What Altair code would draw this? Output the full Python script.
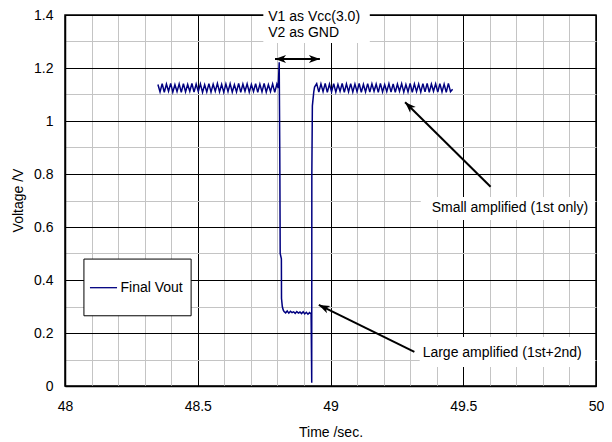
import altair as alt
import pandas as pd

# ---------------- signal: Final Vout ----------------
LEFT_T = [48.350, 48.358, 48.366, 48.374, 48.382, 48.390, 48.398, 48.406, 48.414, 48.422,
          48.430, 48.438, 48.446, 48.454, 48.462, 48.470, 48.478, 48.486, 48.494, 48.502,
          48.510, 48.518, 48.526, 48.534, 48.542, 48.550, 48.558, 48.566, 48.574, 48.582,
          48.590, 48.598, 48.606, 48.614, 48.622, 48.630, 48.638, 48.646, 48.654, 48.662,
          48.670, 48.678, 48.686, 48.694, 48.702, 48.710, 48.718, 48.726, 48.734, 48.742,
          48.750, 48.758, 48.766, 48.774, 48.782, 48.790, 48.798]
LEFT_V = [1.138, 1.110, 1.141, 1.108, 1.139, 1.112, 1.142, 1.109, 1.137, 1.111,
          1.140, 1.108, 1.141, 1.110, 1.138, 1.112, 1.142, 1.109, 1.139, 1.111,
          1.140, 1.108, 1.137, 1.110, 1.141, 1.109, 1.139, 1.112, 1.142, 1.110,
          1.138, 1.108, 1.140, 1.111, 1.141, 1.109, 1.137, 1.110, 1.142, 1.108,
          1.139, 1.112, 1.140, 1.109, 1.138, 1.111, 1.141, 1.108, 1.139, 1.110,
          1.142, 1.109, 1.137, 1.111, 1.140, 1.108, 1.139]

FALL_T = [48.803, 48.8068, 48.809, 48.810, 48.8105, 48.815, 48.8155, 48.8185, 48.8218]
FALL_V = [1.125, 1.222, 0.880, 0.630, 0.500, 0.480, 0.330, 0.300, 0.287]

LOW_T = [48.825, 48.831, 48.837, 48.843, 48.849, 48.855, 48.861, 48.867, 48.873,
         48.879, 48.885, 48.891, 48.897, 48.903, 48.909, 48.915, 48.921, 48.927]
LOW_V = [0.281, 0.276, 0.283, 0.275, 0.282, 0.277, 0.280, 0.274, 0.281,
         0.275, 0.279, 0.273, 0.280, 0.272, 0.278, 0.271, 0.277, 0.272]

EDGE_T = [48.9293, 48.9297, 48.9317, 48.9370]
EDGE_V = [0.012, 0.800, 1.057, 1.110]

RIGHT_T = [48.940, 48.948, 48.956, 48.964, 48.972, 48.980, 48.988, 48.996, 49.004, 49.012,
           49.020, 49.028, 49.036, 49.044, 49.052, 49.060, 49.068, 49.076, 49.084, 49.092,
           49.100, 49.108, 49.116, 49.124, 49.132, 49.140, 49.148, 49.156, 49.164, 49.172,
           49.180, 49.188, 49.196, 49.204, 49.212, 49.220, 49.228, 49.236, 49.244, 49.252,
           49.260, 49.268, 49.276, 49.284, 49.292, 49.300, 49.308, 49.316, 49.324, 49.332,
           49.340, 49.348, 49.356, 49.364, 49.372, 49.380, 49.388, 49.396, 49.404, 49.412,
           49.420, 49.428, 49.436, 49.444, 49.452, 49.460]
RIGHT_V = [1.128, 1.141, 1.109, 1.140, 1.111, 1.142, 1.108, 1.139, 1.110, 1.141,
           1.109, 1.138, 1.112, 1.142, 1.108, 1.140, 1.110, 1.141, 1.109, 1.139,
           1.111, 1.142, 1.108, 1.138, 1.110, 1.141, 1.109, 1.140, 1.112, 1.139,
           1.108, 1.142, 1.110, 1.137, 1.111, 1.141, 1.109, 1.140, 1.108, 1.139,
           1.112, 1.141, 1.109, 1.138, 1.110, 1.142, 1.108, 1.140, 1.111, 1.139,
           1.109, 1.141, 1.110, 1.142, 1.108, 1.139, 1.112, 1.140, 1.109, 1.141,
           1.110, 1.139, 1.108, 1.142, 1.111, 1.120]

# ---------------- axes ----------------
X_GRID = [48.0, 48.1, 48.2, 48.3, 48.4, 48.5, 48.6, 48.7, 48.8, 48.9, 49.0,
          49.1, 49.2, 49.3, 49.4, 49.5, 49.6, 49.7, 49.8, 49.9, 50.0]
Y_GRID = [0.0, 0.1, 0.2, 0.3, 0.4, 0.5, 0.6, 0.7, 0.8, 0.9, 1.0, 1.1, 1.2, 1.3, 1.4]
X_TITLE = "Time /sec."
Y_TITLE = "Voltage /V"

# ---------------- annotations ----------------
NOTE_TEXT = ["V1 as Vcc(3.0)", "V2 as GND", "Small amplified (1st only)", "Large amplified (1st+2nd)"]
NOTE_T = [48.7655, 48.7655, 49.381, 49.347]
NOTE_V = [1.377, 1.318, 0.658, 0.1106]

BOX_T1 = [48.747, 49.340, 49.336]
BOX_T2 = [49.148, 49.996, 49.996]
BOX_V1 = [1.294, 0.626, 0.0717]
BOX_V2 = [1.45, 0.713, 0.185]

SHAFT_T1 = [49.603, 49.316, 48.791]
SHAFT_V1 = [0.752, 0.129, 1.234]
SHAFT_T2 = [49.281, 48.956, 48.960]
SHAFT_V2 = [1.071, 0.306, 1.234]

HEAD_T = [49.281, 48.956, 48.791, 48.960]
HEAD_V = [1.071, 0.306, 1.234, 1.234]
HEAD_ANGLE = [314.5, 295.9, 270, 90]

LEGEND_LABEL = ["Final Vout"]
LEGEND_BOX_T = [48.0713, 48.475]
LEGEND_BOX_V = [0.265, 0.479]
LEGEND_LINE_T = [48.094, 48.196]
LEGEND_LINE_V = [0.371]
LEGEND_TEXT_T = [48.209]
LEGEND_TEXT_V = [0.356]

FONT = "Liberation Sans"
NAVY = "#000080"

W, H = 531, 371

signal = pd.DataFrame({
    "t": LEFT_T + FALL_T + LOW_T + EDGE_T + RIGHT_T,
    "v": LEFT_V + FALL_V + LOW_V + EDGE_V + RIGHT_V,
})

xscale = alt.Scale(domain=[48, 50], nice=False, zero=False)
yscale = alt.Scale(domain=[0, 1.4], nice=False, zero=False)

x_axis = alt.Axis(
    values=X_GRID, title=X_TITLE, ticks=False, tickSize=0, labelPadding=13,
    labelExpr="round(datum.value*10) % 5 === 0 ? format(datum.value, '~g') : ''",
    gridColor={"condition": {"test": "round(datum.value*10) % 5 === 0", "value": "#000000"}, "value": "#c4c4c4"},
    grid=True, gridWidth=1, domainColor="black", domainWidth=1.5,
    labelFont=FONT, labelFontSize=14, labelColor="black", labelFlush=False, labelOverlap=False,
    titleFont=FONT, titleFontSize=14, titleFontWeight="normal", titleColor="black",
    titleX=W / 2, titleY=50, titleBaseline="alphabetic", titleAlign="center",
)
y_axis = alt.Axis(
    values=Y_GRID, title=Y_TITLE, ticks=False, tickSize=0, labelPadding=12,
    labelExpr="round(datum.value*10) % 2 === 0 ? format(datum.value, '~g') : ''",
    gridColor={"condition": {"test": "round(datum.value*10) % 2 === 0", "value": "#000000"}, "value": "#c4c4c4"},
    grid=True, gridWidth=1, domainColor="black", domainWidth=1.5,
    labelFont=FONT, labelFontSize=14, labelColor="black", labelFlush=False, labelOverlap=False,
    titleFont=FONT, titleFontSize=14, titleFontWeight="normal", titleColor="black",
    titleX=-42.5, titleY=185, titleBaseline="alphabetic", titleAlign="center", titleAngle=270,
)

X_ENC = alt.X("t:Q", scale=xscale, axis=x_axis)
Y_ENC = alt.Y("v:Q", scale=yscale, axis=y_axis)

line = alt.Chart(signal).mark_line(color=NAVY, strokeWidth=1.5).encode(
    x=X_ENC, y=Y_ENC, order="t:Q",
)

boxes = alt.Chart(pd.DataFrame({"t": BOX_T1, "t2": BOX_T2, "v": BOX_V1, "v2": BOX_V2})).mark_rect(
    color="white", opacity=1
).encode(x=X_ENC, x2="t2:Q", y=Y_ENC, y2="v2:Q")

legend_box = alt.Chart(pd.DataFrame({"t": [LEGEND_BOX_T[0]], "t2": [LEGEND_BOX_T[1]],
                                     "v": [LEGEND_BOX_V[0]], "v2": [LEGEND_BOX_V[1]]})).mark_rect(
    fill="white", stroke="black", strokeWidth=1, opacity=1
).encode(x=X_ENC, x2="t2:Q", y=Y_ENC, y2="v2:Q")

legend_line = alt.Chart(pd.DataFrame({"t": [LEGEND_LINE_T[0]], "t2": [LEGEND_LINE_T[1]],
                                      "v": LEGEND_LINE_V})).mark_rule(color=NAVY, strokeWidth=1.3).encode(
    x=X_ENC, x2="t2:Q", y=Y_ENC,
)

legend_text = alt.Chart(pd.DataFrame({"t": LEGEND_TEXT_T, "v": LEGEND_TEXT_V, "label": LEGEND_LABEL})).mark_text(
    align="left", baseline="alphabetic", font=FONT, fontSize=14, color="black"
).encode(x=X_ENC, y=Y_ENC, text="label:N")

shafts = alt.Chart(pd.DataFrame({"t": SHAFT_T1, "v": SHAFT_V1, "t2": SHAFT_T2, "v2": SHAFT_V2})).mark_rule(
    color="black", strokeWidth=2
).encode(x=X_ENC, x2="t2:Q", y=Y_ENC, y2="v2:Q")

heads = alt.Chart(pd.DataFrame({"t": HEAD_T, "v": HEAD_V, "a": HEAD_ANGLE})).mark_point(
    shape="M0,0L0.4,1.1L0,0.8L-0.4,1.1Z", filled=True, color="black", opacity=1, size=400, strokeWidth=0
).encode(x=X_ENC, y=Y_ENC, angle=alt.Angle("a:Q", scale=None))

notes = alt.Chart(pd.DataFrame({"t": NOTE_T, "v": NOTE_V, "label": NOTE_TEXT})).mark_text(
    align="left", baseline="alphabetic", font=FONT, fontSize=14, color="black"
).encode(x=X_ENC, y=Y_ENC, text="label:N")

chart = alt.layer(
    line, boxes, legend_box, legend_line, legend_text, shafts, heads, notes
).properties(
    width=W, height=H,
    autosize=alt.AutoSizeParams(type="none"),
    padding={"left": 57, "top": 7, "right": 8, "bottom": 52},
    background="white",
).configure(
    font=FONT,
    view=alt.ViewConfig(stroke="black", strokeWidth=1.5),
)

chart.save("out.html", embed_options={"renderer": "svg", "actions": False})
